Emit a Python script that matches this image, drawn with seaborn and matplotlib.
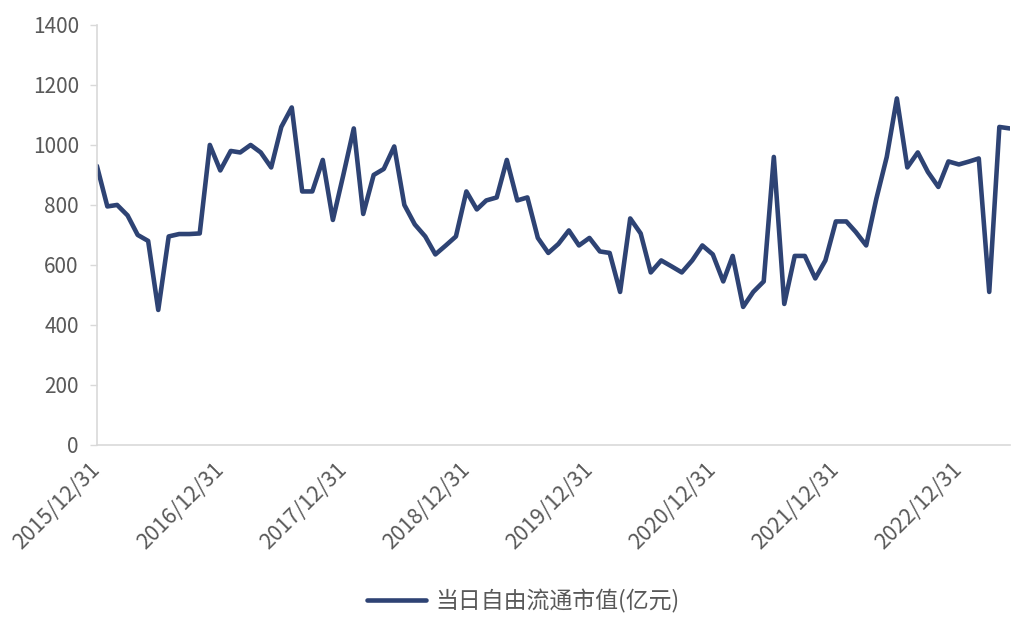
############################################################
##### Imports
############################################################

import pandas as pd
import numpy as np
import matplotlib
matplotlib.use("Agg")
import matplotlib.pyplot as plt
import matplotlib.dates as mdates
import seaborn as sns

############################################################
##### Data (month-end values, 2015/12 - 2023/05)
############################################################

start_date = "2015-12-31"
n_months = 90
free_float_cap = [
    930, 795, 800, 765, 700, 680, 450, 695, 703, 703,
    705, 1000, 915, 980, 975, 1000, 975, 925, 1060, 1125,
    845, 845, 950, 750, 900, 1055, 770, 900, 920, 995,
    800, 735, 695, 635, 665, 695, 845, 785, 815, 825,
    950, 815, 825, 690, 640, 670, 715, 665, 690, 645,
    640, 510, 755, 705, 575, 615, 595, 575, 615, 665,
    635, 545, 630, 460, 510, 545, 960, 470, 630, 630,
    555, 615, 745, 745, 710, 665, 820, 960, 1155, 925,
    975, 910, 860, 945, 935, 945, 955, 510, 1060, 1055,
]
tick_dates = ["2015-12-31", "2016-12-31", "2017-12-31", "2018-12-31",
              "2019-12-31", "2020-12-31", "2021-12-31", "2022-12-31"]
y_ticks = [0, 200, 400, 600, 800, 1000, 1200, 1400]
series_name = "当日自由流通市值(亿元)"

############################################################
##### Plot
############################################################

sns.set_style("white")
plt.rcParams["font.family"] = ["Noto Sans CJK SC", "DejaVu Sans"]

df = pd.DataFrame({
    "date": pd.date_range(start_date, periods=n_months, freq="ME"),
    "value": free_float_cap,
})

line_color = "#2E4374"
text_color = "#595959"
axis_color = "#D9D9D9"

fig, ax = plt.subplots(figsize=(10.2, 6.24), dpi=100)
fig.subplots_adjust(left=0.095, right=0.99, top=0.96, bottom=0.287)

sns.lineplot(data=df, x="date", y="value", ax=ax, color=line_color,
             linewidth=3.3, label=series_name, legend=False)
ax.lines[0].set_solid_joinstyle("round")
ax.lines[0].set_solid_capstyle("round")

ax.set_xlim(df["date"].iloc[0], df["date"].iloc[-1])
ax.set_ylim(0, 1400)
ax.set_yticks(y_ticks)
ax.set_xticks(pd.to_datetime(tick_dates))
ax.xaxis.set_major_formatter(mdates.DateFormatter("%Y/%m/%d"))
ax.set_xlabel("")
ax.set_ylabel("")

for side in ["top", "right"]:
    ax.spines[side].set_visible(False)
for side in ["left", "bottom"]:
    ax.spines[side].set_color(axis_color)
    ax.spines[side].set_linewidth(1.2)

ax.tick_params(axis="y", left=True, length=5, width=1, color=axis_color,
               labelsize=15, labelcolor=text_color, pad=8)
ax.tick_params(axis="x", bottom=False, labelsize=15.5, labelcolor=text_color, pad=12)
for lbl in ax.get_xticklabels():
    lbl.set_rotation(45)
    lbl.set_ha("right")
    lbl.set_va("center")
    lbl.set_rotation_mode("anchor")

handles, labels = ax.get_legend_handles_labels()
fig.legend(handles, labels, loc="center", bbox_to_anchor=(0.513, 0.037),
           frameon=False, fontsize=16.5, labelcolor=text_color,
           handlelength=2.6, handletextpad=0.4)

fig.savefig("out.png", dpi=100)
